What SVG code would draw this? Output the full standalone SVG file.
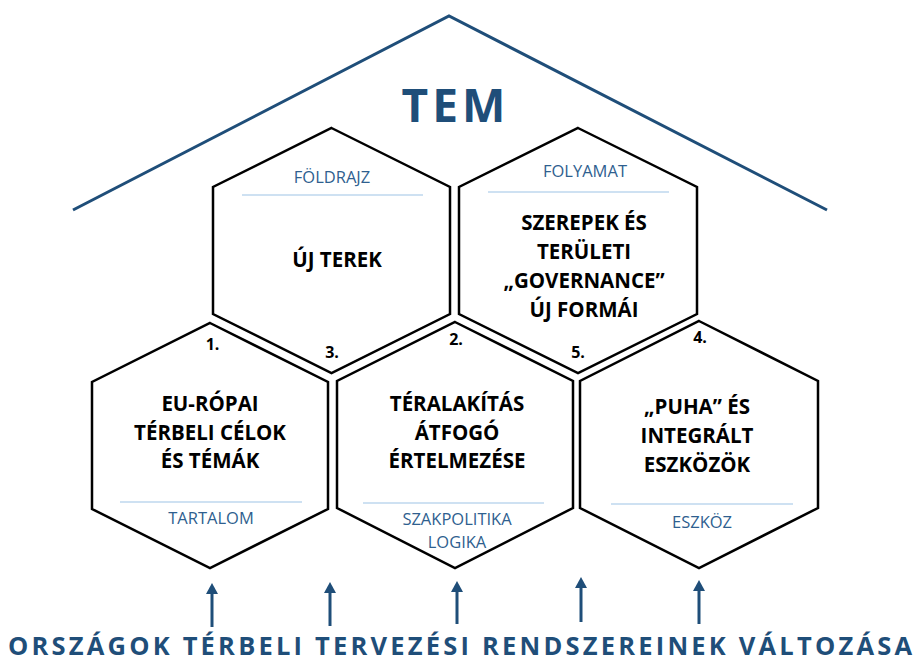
<svg xmlns="http://www.w3.org/2000/svg" width="914" height="662" viewBox="0 0 914 662">
<defs>
<style>
.hex{fill:#ffffff;stroke:#000000;stroke-width:2.5;stroke-linejoin:miter}
.main{font-family:"Open Sans","Liberation Sans",sans-serif;font-weight:bold;font-size:20.5px;fill:#000000;text-anchor:middle}
.num{font-family:"Open Sans","Liberation Sans",sans-serif;font-weight:bold;font-size:16px;fill:#000000;text-anchor:middle}
.sub{font-family:"Open Sans","Liberation Sans",sans-serif;font-size:16.5px;fill:#2f5f8f;text-anchor:middle}
.div{stroke:#9dc3e6;stroke-width:1.2}
.arrow{stroke:#1f4e79;stroke-width:3;fill:none}
.head{fill:#1f4e79}
.title{font-family:"Open Sans","Liberation Sans",sans-serif;font-weight:bold;fill:#1f4e79}
</style>
</defs>
<rect width="914" height="662" fill="#ffffff"/>
<g id="roof">
<polyline points="73,210 449,16 827,210" fill="none" stroke="#1f4e79" stroke-width="3"/>
<text class="title" x="455.5" y="122" font-size="46" letter-spacing="4" text-anchor="middle">TEM</text>
</g>
<g id="hex-uj-terek">
<polygon class="hex" points="331.5,128 450,187 450,314 331.5,373 213,314 213,187"/>
<text class="sub" x="332" y="183">FÖLDRAJZ</text>
<line class="div" x1="242" y1="195" x2="423" y2="195"/>
<text class="main" x="337" y="267">ÚJ TEREK</text>
</g>
<g id="hex-szerepek">
<polygon class="hex" points="578,128 697,187 697,314 578,373 459,314 459,187"/>
<text class="sub" x="585" y="177">FOLYAMAT</text>
<line class="div" x1="488" y1="192" x2="669" y2="192"/>
<text class="main" x="584" y="230">SZEREPEK ÉS</text>
<text class="main" x="584" y="259">TERÜLETI</text>
<text class="main" x="584" y="288">„GOVERNANCE”</text>
<text class="main" x="584" y="317">ÚJ FORMÁI</text>
</g>
<g id="hex-europai">
<polygon class="hex" points="210,323 328,382 328,509 210,568 92,509 92,382"/>
<text class="main" x="210" y="411">EU-RÓPAI</text>
<text class="main" x="210" y="440">TÉRBELI CÉLOK</text>
<text class="main" x="210" y="468">ÉS TÉMÁK</text>
<line class="div" x1="120" y1="502" x2="302" y2="502"/>
<text class="sub" x="211" y="524">TARTALOM</text>
</g>
<g id="hex-teralakitas">
<polygon class="hex" points="455,322 573,381 573,508 455,568 337,508 337,381"/>
<text class="main" x="457" y="411">TÉRALAKÍTÁS</text>
<text class="main" x="457" y="440">ÁTFOGÓ</text>
<text class="main" x="457" y="468">ÉRTELMEZÉSE</text>
<line class="div" x1="363" y1="503" x2="544" y2="503"/>
<text class="sub" x="457" y="525">SZAKPOLITIKA</text>
<text class="sub" x="457" y="548">LOGIKA</text>
</g>
<g id="hex-puha">
<polygon class="hex" points="699,321 818,381 818,508 699,568 580,508 580,381"/>
<text class="main" x="697" y="414">„PUHA” ÉS</text>
<text class="main" x="697" y="443">INTEGRÁLT</text>
<text class="main" x="697" y="472">ESZKÖZÖK</text>
<line class="div" x1="611" y1="504" x2="793" y2="504"/>
<text class="sub" x="702" y="528">ESZKÖZ</text>
</g>
<g id="numbers">
<text class="num" x="212.5" y="350">1.</text>
<text class="num" x="332" y="358">3.</text>
<text class="num" x="456" y="345">2.</text>
<text class="num" x="578" y="358">5.</text>
<text class="num" x="700" y="343">4.</text>
</g>
<g id="connectors">
<line class="arrow" x1="212" y1="627" x2="212" y2="592"/>
<polygon class="head" points="212,583 206,594 218,594"/>
<line class="arrow" x1="330" y1="626" x2="330" y2="591"/>
<polygon class="head" points="330,582 324,593 336,593"/>
<line class="arrow" x1="457" y1="624" x2="457" y2="590"/>
<polygon class="head" points="457,581 451,592 463,592"/>
<line class="arrow" x1="581" y1="622" x2="581" y2="586"/>
<polygon class="head" points="581,577 575,588 587,588"/>
<line class="arrow" x1="699" y1="624" x2="699" y2="589"/>
<polygon class="head" points="699,580 693,591 705,591"/>
</g>
<g id="footer">
<text class="title" x="8" y="655" font-size="25.5" textLength="904" lengthAdjust="spacing">ORSZÁGOK TÉRBELI TERVEZÉSI RENDSZEREINEK VÁLTOZÁSA</text>
</g>
</svg>
